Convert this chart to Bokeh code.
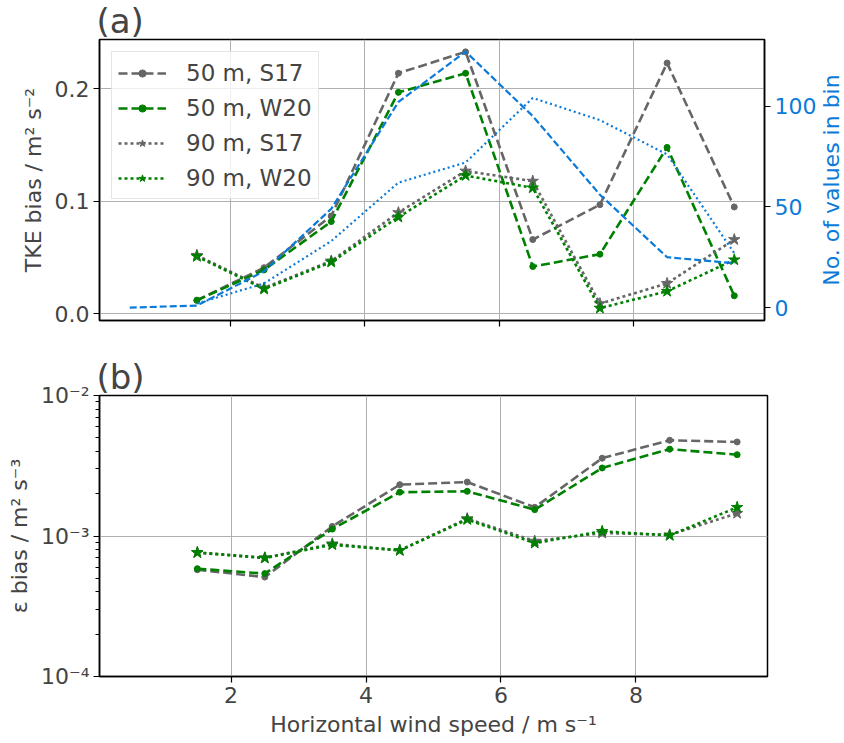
from bokeh.plotting import figure
from bokeh.models import (Range1d, LinearAxis, FixedTicker, CustomJSTickFormatter,
                          PrintfTickFormatter, Title)
from bokeh.layouts import column, row
from bokeh.embed import file_html
from bokeh.resources import INLINE

FONT = "DejaVu Sans"
GRAY = "#666666"
GREEN = "#008000"
BLUE = "#0b7ad9"

# bin centres
wind = [1.5, 2.5, 3.5, 4.5, 5.5, 6.5, 7.5, 8.5, 9.5]
wind_all = [0.5, 1.5, 2.5, 3.5, 4.5, 5.5, 6.5, 7.5, 8.5, 9.5]

# (a) TKE bias
tke_50_s17 = [0.012, 0.041, 0.087, 0.214, 0.233, 0.066, 0.097, 0.223, 0.095]
tke_50_w20 = [0.012, 0.039, 0.082, 0.197, 0.214, 0.042, 0.053, 0.148, 0.016]
tke_90_s17 = [0.052, 0.023, 0.047, 0.090, 0.127, 0.118, 0.009, 0.027, 0.066]
tke_90_w20 = [0.051, 0.022, 0.046, 0.086, 0.123, 0.112, 0.005, 0.020, 0.048]

# number of values per bin
n_50 = [0, 1, 18, 49, 102, 127, 95, 56, 25, 22]
n_90 = [2, 12, 33, 62, 72, 104, 93, 76, 27]

# (b) dissipation bias
eps_50_s17 = [5.75e-4, 5.1e-4, 1.17e-3, 2.32e-3, 2.42e-3, 1.6e-3, 3.58e-3, 4.8e-3, 4.67e-3]
eps_50_w20 = [5.85e-4, 5.4e-4, 1.12e-3, 2.05e-3, 2.08e-3, 1.54e-3, 3.05e-3, 4.15e-3, 3.79e-3]
eps_90_s17 = [7.6e-4, 7.0e-4, 8.8e-4, 7.9e-4, 1.33e-3, 9.2e-4, 1.05e-3, 1.02e-3, 1.45e-3]
eps_90_w20 = [7.64e-4, 6.97e-4, 8.67e-4, 7.9e-4, 1.31e-3, 8.9e-4, 1.08e-3, 1.01e-3, 1.6e-3]

labels = ["50 m, S17", "50 m, W20", "90 m, S17", "90 m, W20"]
x_ticks = [2, 4, 6, 8]


def style(p):
    p.outline_line_color = "black"
    p.outline_line_width = 1.5
    p.title.text_font = FONT
    p.title.text_font_size = "34px"
    p.title.text_font_style = "normal"
    p.title.standoff = -3
    p.title.offset = -3
    p.grid.grid_line_color = "#b0b0b0"
    p.grid.grid_line_width = 1
    for ax in p.axis:
        ax.axis_line_width = 1.5
        ax.major_tick_out = 6
        ax.major_tick_in = 0
        ax.major_tick_line_width = 1.2
        ax.minor_tick_line_color = None
        ax.major_label_text_font = FONT
        ax.major_label_text_font_size = "22px"
        ax.axis_label_text_font = FONT
        ax.axis_label_text_font_size = "22px"
        ax.axis_label_text_font_style = "normal"
        ax.major_label_standoff = 4
        ax.axis_label_standoff = 6


def add_series(p, ys):
    styles = [(GRAY, "9 4", "circle", 6), (GREEN, "9 4", "circle", 6),
              (GRAY, "3 3", "star", 12), (GREEN, "3 3", "star", 12)]
    for y, lab, (c, dash, mk, sz) in zip(ys, labels, styles):
        p.line(wind, y, line_color=c, line_width=2.6, line_dash=dash, legend_label=lab)
        p.scatter(wind, y, marker=mk, size=sz, fill_color=c, line_color=c, legend_label=lab)


# ---- panel (a)
p1 = figure(width=819, height=345, title="(a)", output_backend="svg", toolbar_location=None,
            x_range=Range1d(0.05, 9.95), y_range=Range1d(-0.006, 0.244),
            min_border_left=99, min_border_right=52, min_border_top=37, min_border_bottom=25)
p1.extra_y_ranges = {"n": Range1d(-6.4, 133)}
add_series(p1, [tke_50_s17, tke_50_w20, tke_90_s17, tke_90_w20])
p1.line(wind_all, n_50, y_range_name="n", line_color=BLUE, line_width=2.2, line_dash="7 3")
p1.line(wind, n_90, y_range_name="n", line_color=BLUE, line_width=2.2, line_dash="2 3")

right = LinearAxis(y_range_name="n", ticker=FixedTicker(ticks=[0, 50, 100]))
p1.add_layout(right, "right")
style(p1)
right.major_label_text_color = BLUE

p1.xaxis.ticker = FixedTicker(ticks=x_ticks)
p1.xaxis.formatter = CustomJSTickFormatter(code="return ''")
p1.yaxis[0].ticker = FixedTicker(ticks=[0, 0.1, 0.2])
p1.yaxis[0].formatter = PrintfTickFormatter(format="%.1f")
p1.yaxis[0].axis_label = "TKE bias / m² s⁻²"
p1.ygrid.ticker = FixedTicker(ticks=[0, 0.1, 0.2])
p1.xgrid.ticker = FixedTicker(ticks=x_ticks)

lg = p1.legend[0]
lg.location = "top_left"
lg.margin = 12
lg.padding = 6
lg.spacing = 6
lg.glyph_width = 48
lg.glyph_height = 18
lg.label_height = 29
lg.label_standoff = 20
lg.label_text_font = FONT
lg.label_text_font_size = "23px"
lg.border_line_color = "#cccccc"
lg.border_line_width = 1
lg.background_fill_alpha = 0.8

# narrow strip carrying the right axis title, reading upwards
side = figure(width=24, height=345, output_backend="svg", toolbar_location=None,
              min_border=0, outline_line_color=None)
side.axis.visible = False
side.grid.visible = False
side.add_layout(Title(text="No. of values in bin", align="center", text_color=BLUE,
                      text_font=FONT, text_font_size="22px", text_font_style="normal",
                      standoff=0, offset=-6), "left")

# ---- panel (b)
p2 = figure(width=843, height=396, title="(b)", output_backend="svg", toolbar_location=None,
            x_range=Range1d(0.05, 9.95), y_range=Range1d(1e-4, 1e-2), y_axis_type="log",
            min_border_left=99, min_border_right=76, min_border_top=50, min_border_bottom=65)
add_series(p2, [eps_50_s17, eps_50_w20, eps_90_s17, eps_90_w20])
p2.legend.visible = False
style(p2)
minor = [m * 1e-4 for m in range(2, 10)] + [m * 1e-3 for m in range(2, 10)]
p2.yaxis.ticker = FixedTicker(ticks=[1e-4, 1e-3, 1e-2], minor_ticks=minor)
p2.yaxis.minor_tick_line_color = "black"
p2.yaxis.minor_tick_out = 4
p2.yaxis.minor_tick_in = 0
p2.yaxis.formatter = CustomJSTickFormatter(code="""
const e = Math.round(Math.log10(tick));
const sup = {'-': '\u207b', '0': '\u2070', '1': '\u00b9', '2': '\u00b2', '3': '\u00b3',
             '4': '\u2074', '5': '\u2075', '6': '\u2076', '7': '\u2077', '8': '\u2078', '9': '\u2079'};
return '10' + String(e).split('').map(c => sup[c]).join('');
""")
p2.yaxis.axis_label = "ε bias / m² s⁻³"
p2.ygrid.ticker = FixedTicker(ticks=[1e-4, 1e-3, 1e-2])
p2.xaxis.ticker = FixedTicker(ticks=x_ticks)
p2.xgrid.ticker = FixedTicker(ticks=x_ticks)
p2.xaxis.axis_label = "Horizontal wind speed / m s⁻¹"

layout = column(row(p1, side), p2)
open("out.html", "w").write(file_html(layout, INLINE))
